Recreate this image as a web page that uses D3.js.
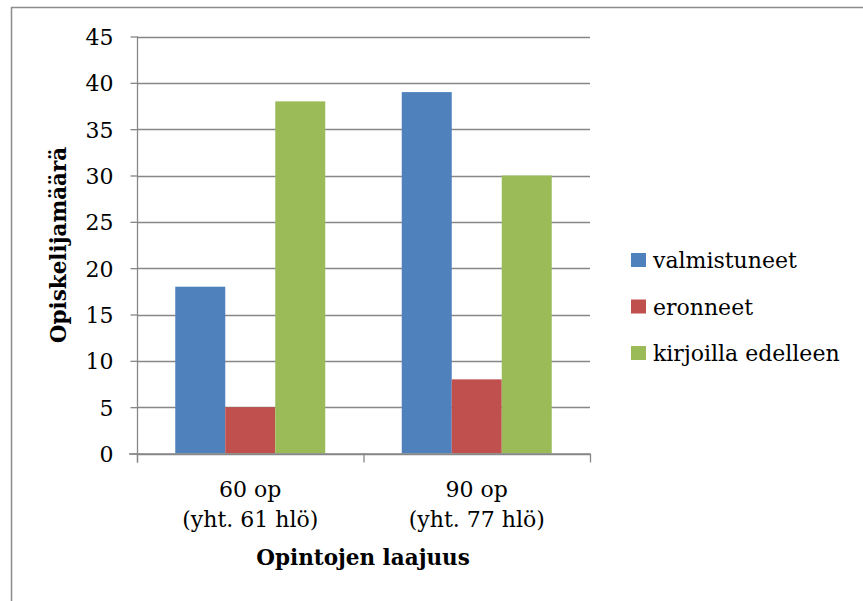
<!DOCTYPE html>
<html><head><meta charset="utf-8">
<script src="https://cdn.jsdelivr.net/npm/d3@7"></script>
<style>body{margin:0;background:#fff}svg{display:block}text{font-family:"DejaVu Serif","Liberation Serif",serif}</style>
</head><body><svg id="c" width="863" height="601"></svg>
<script>
const categories = [["60 op","(yht. 61 hlö)"],["90 op","(yht. 77 hlö)"]];
const seriesNames = ["valmistuneet","eronneet","kirjoilla edelleen"];
const valmistuneet = [18, 39];
const eronneet = [5, 8];
const kirjoilla = [38, 30];
const yTicks = [0,5,10,15,20,25,30,35,40,45];
const colors = ["#4f81bd","#c0504d","#9bbb59"];
const seriesValues = [valmistuneet, eronneet, kirjoilla];

const FS = 22;
const svg = d3.select("#c");
// outer border (top & left visible)
svg.append("line").attr("x1",11).attr("x2",863).attr("y1",7.5).attr("y2",7.5).attr("stroke","#8c8c8c").attr("stroke-width",1.5);
svg.append("line").attr("x1",11.5).attr("x2",11.5).attr("y1",7).attr("y2",601).attr("stroke","#8c8c8c").attr("stroke-width",1.5);

const L=137, R=590, T=36.5, B=453.5;
const y = d3.scaleLinear().domain([0,45]).range([B,T]);
const x0 = d3.scaleBand().domain([0,1]).range([L,R]).paddingInner(0).paddingOuter(0);
const bw = 50;
const g = svg.append("g");

// gridlines
g.selectAll(".grid").data(yTicks).join("line")
 .attr("x1",L).attr("x2",R).attr("y1",d=>Math.round(y(d))+0.5).attr("y2",d=>Math.round(y(d))+0.5)
 .attr("stroke","#878787").attr("stroke-width",1.3);

// bars
seriesValues.forEach((vals,si)=>{
  g.selectAll(".b"+si).data(vals).join("rect")
   .attr("x",(d,i)=>x0(i)+x0.bandwidth()/2-1.5*bw+si*bw)
   .attr("width",bw)
   .attr("y",d=>y(d)).attr("height",d=>B-y(d))
   .attr("fill",colors[si]);
});

// y axis
const yAxis = d3.axisLeft(y).tickValues(yTicks).tickSize(7).tickPadding(17);
const ya = svg.append("g").attr("transform",`translate(${L+0.5},0)`).call(yAxis);
ya.select(".domain").attr("stroke","#878787").attr("stroke-width",1.3).attr("d",`M0,${T}V${B+9}`);
ya.selectAll(".tick line").attr("stroke","#878787").attr("stroke-width",1.3);
ya.selectAll(".tick text").attr("font-size",FS).attr("fill","#000").attr("font-family","DejaVu Serif").attr("dy","0.36em");

// x axis
svg.append("line").attr("x1",L-8).attr("x2",R).attr("y1",B+0.5).attr("y2",B+0.5).attr("stroke","#878787").attr("stroke-width",1.3);
[L, L+x0.bandwidth(), R].forEach(xx=>{
  svg.append("line").attr("x1",xx+0.5).attr("x2",xx+0.5).attr("y1",B).attr("y2",B+9).attr("stroke","#878787").attr("stroke-width",1.3);
});
categories.forEach((c,i)=>{
  const cx = x0(i)+x0.bandwidth()/2;
  const t = svg.append("text").attr("x",cx).attr("text-anchor","middle").attr("font-size",FS).attr("fill","#000");
  t.append("tspan").attr("x",cx).attr("y",497).text(c[0]);
  t.append("tspan").attr("x",cx).attr("y",527).text(c[1]);
});

// axis titles
svg.append("text").attr("x",363).attr("y",565).attr("text-anchor","middle").attr("font-size",21.5).attr("font-weight","bold").text("Opintojen laajuus");
svg.append("text").attr("transform","translate(66,245) rotate(-90)").attr("text-anchor","middle").attr("font-size",21.5).attr("font-weight","bold").text("Opiskelijamäärä");

// legend
const leg = svg.append("g");
seriesNames.forEach((n,i)=>{
  const yy = 268 + i*46.5;
  leg.append("rect").attr("x",631).attr("y",yy-15).attr("width",15).attr("height",14).attr("fill",colors[i]);
  leg.append("text").attr("x",653).attr("y",yy).attr("font-size",FS).attr("fill","#000").text(n);
});
</script></body></html>
